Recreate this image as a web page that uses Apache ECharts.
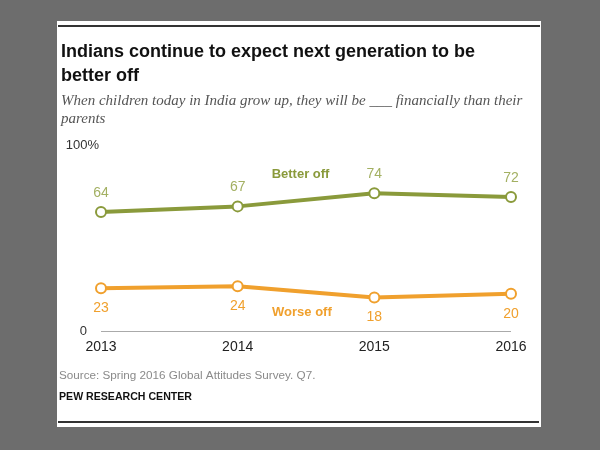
<!DOCTYPE html>
<html>
<head>
<meta charset="utf-8">
<script src="https://cdn.jsdelivr.net/npm/echarts@6/dist/echarts.min.js"></script>
<style>
  html, body { margin: 0; padding: 0; background: #6d6d6d; }
  #chart { width: 600px; height: 450px; }
</style>
</head>
<body>
<div id="chart"></div>
<script>
var years = [2013, 2014, 2015, 2016];
var betterOff = [64, 67, 74, 72];
var worseOff = [23, 24, 18, 20];
var yTicks = [0, 100];

var olive = '#8a9a3b';
var oliveLabel = '#a3b062';
var orange = '#f0a02d';

function pairs(vals) {
    return years.map(function (y, i) { return [y, vals[i]]; });
}

var chart = echarts.init(document.getElementById('chart'));

var option = {
    backgroundColor: '#6d6d6d',
    animation: false,
    graphic: [
        { type: 'rect', shape: { x: 57, y: 21, width: 484, height: 406 }, style: { fill: '#fff' }, z: -10 },
        { type: 'rect', shape: { x: 58, y: 25, width: 482, height: 2 }, style: { fill: '#333' } },
        { type: 'rect', shape: { x: 58, y: 421, width: 481, height: 2 }, style: { fill: '#333' } },
        { type: 'text', left: 61, top: 40, style: {
            text: 'Indians continue to expect next generation to be\nbetter off',
            font: 'bold 18px "Liberation Sans"', fill: '#111', lineHeight: 24 } },
        { type: 'text', left: 61, top: 92, style: {
            text: 'When children today in India grow up, they will be ___ financially than their\nparents',
            font: 'italic 15px "Liberation Serif"', fill: '#555', lineHeight: 18 } },
        { type: 'text', left: 59, top: 370, style: {
            text: 'Source: Spring 2016 Global Attitudes Survey. Q7.',
            font: '11.7px "Liberation Sans"', fill: '#8a8a8a' } },
        { type: 'text', left: 59, top: 392, style: {
            text: 'PEW RESEARCH CENTER',
            font: 'bold 10.6px "Liberation Sans"', fill: '#111' } }
    ],
    grid: { left: 101, right: 89, top: 145, bottom: 119 },
    xAxis: {
        type: 'value',
        min: 2013,
        max: 2016,
        interval: 1,
        splitLine: { show: false },
        axisLine: { show: false },
        axisTick: { show: false },
        axisLabel: { color: '#222', fontSize: 14, fontFamily: 'Liberation Sans', margin: 9,
            formatter: function (v) { return String(v); } }
    },
    yAxis: {
        type: 'value',
        min: yTicks[0],
        max: yTicks[1],
        interval: 100,
        splitLine: { show: false },
        axisLine: { show: false },
        axisTick: { show: false },
        axisLabel: {
            margin: 2,
            formatter: function (v) { return v === 100 ? '{a|100%}' : '{b|' + v + '}'; },
            rich: {
                a: { color: '#333', fontSize: 13, fontFamily: 'Liberation Sans' },
                b: { color: '#333', fontSize: 13, fontFamily: 'Liberation Sans', padding: [0, 12, 0, 0] }
            }
        }
    },
    series: [{
        name: 'Better off',
        type: 'line',
        data: pairs(betterOff),
        symbol: 'circle',
        symbolSize: 10,
        lineStyle: { color: olive, width: 4 },
        itemStyle: { color: '#fff', borderColor: olive, borderWidth: 2 },
        label: { show: true, position: 'top', distance: 6, color: oliveLabel, fontSize: 14, fontFamily: 'Liberation Sans',
            formatter: function (p) { return p.value[1]; } },
        markPoint: {
            symbol: 'circle', symbolSize: 0,
            label: { show: true, formatter: 'Better off', color: olive, fontWeight: 'bold', fontSize: 13, fontFamily: 'Liberation Sans' },
            data: [{ coord: [2014.46, 84] }]
        }
    }, {
        name: 'Worse off',
        type: 'line',
        data: pairs(worseOff),
        symbol: 'circle',
        symbolSize: 10,
        lineStyle: { color: orange, width: 4 },
        itemStyle: { color: '#fff', borderColor: orange, borderWidth: 2 },
        label: { show: true, position: 'bottom', distance: 7, color: orange, fontSize: 14, fontFamily: 'Liberation Sans',
            formatter: function (p) { return p.value[1]; } },
        markPoint: {
            symbol: 'circle', symbolSize: 0,
            label: { show: true, formatter: 'Worse off', color: orange, fontWeight: 'bold', fontSize: 13, fontFamily: 'Liberation Sans' },
            data: [{ coord: [2014.47, 10] }]
        },
        markLine: {
            silent: true, symbol: 'none', label: { show: false },
            lineStyle: { color: '#aaa', width: 1, type: 'solid' },
            data: [{ yAxis: 0 }]
        }
    }]
};

chart.setOption(option);
</script>
</body>
</html>
